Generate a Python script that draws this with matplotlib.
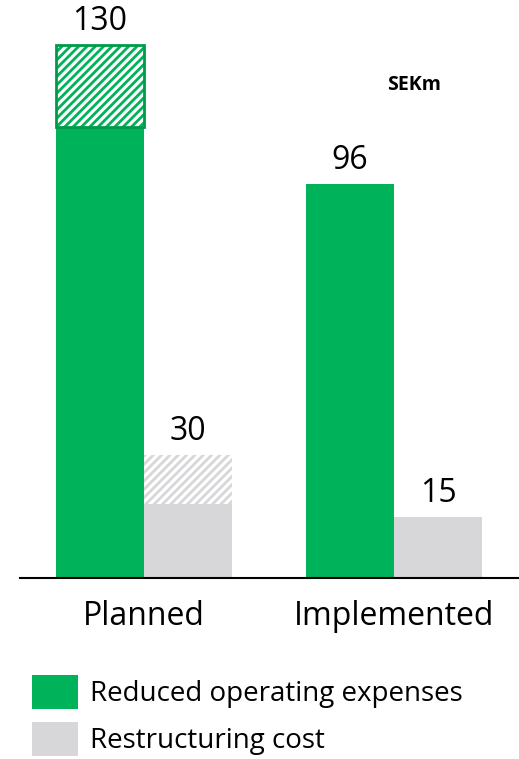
import matplotlib.pyplot as plt
from matplotlib.patches import Patch

plt.rcParams['font.family'] = ['Open Sans', 'DejaVu Sans']
plt.rcParams['hatch.linewidth'] = 2.0

groups = ["Planned", "Implemented"]
opex_total = [130, 96]       # reduced operating expenses
opex_solid = [110, 96]       # part already achieved (solid fill)
restr_total = [30, 15]       # restructuring cost
restr_solid = [18, 15]

green = "#00b259"
dark_green = "#009a4a"
grey = "#d7d7d9"

px = 4.1  # pixels per unit on the value axis

fig = plt.figure(figsize=(5.19, 7.59), dpi=100)
ax = fig.add_axes([20 / 519, 181 / 759, 499 / 519, 578 / 759])

w = 0.352
x = [0, 1]
for i in x:
    xg = i - w / 2
    xr = i + w / 2
    # green bar, solid part + hatched remainder
    ax.bar(xg, opex_solid[i], width=w, color=green, linewidth=0)
    if opex_total[i] > opex_solid[i]:
        ax.bar(xg, opex_total[i] - opex_solid[i], bottom=opex_solid[i], width=w,
               facecolor="white", edgecolor=green, hatch="////", linewidth=0)
        ax.bar(xg, opex_total[i] - opex_solid[i], bottom=opex_solid[i], width=w,
               facecolor="none", edgecolor=dark_green, linewidth=2)
    ax.text(xg, opex_total[i] + 15 / px, str(opex_total[i]), ha="center",
            va="baseline", fontsize=23, clip_on=False)

    # grey bar, solid part + hatched remainder
    ax.bar(xr, restr_solid[i], width=w, color=grey, linewidth=0)
    if restr_total[i] > restr_solid[i]:
        ax.bar(xr, restr_total[i] - restr_solid[i], bottom=restr_solid[i], width=w,
               facecolor="white", edgecolor=grey, hatch="////", linewidth=0)
    ax.text(xr, restr_total[i] + 15 / px, str(restr_total[i]), ha="center",
            va="baseline", fontsize=23, clip_on=False)

    ax.text(i, -47 / px, groups[i], ha="center", va="baseline", fontsize=23,
            clip_on=False)

ax.set_xlim(-0.496, 1.5)
ax.set_ylim(0, 578 / px)
ax.set_xticks([])
ax.set_yticks([])
for s in ["top", "right", "left"]:
    ax.spines[s].set_visible(False)
ax.spines["bottom"].set_linewidth(1.5)

fig.text(414 / 519, 1 - 85 / 759, "SEKm", ha="center", va="center",
         fontsize=14, fontweight="bold")

handles = [Patch(facecolor=green, label="Reduced operating expenses"),
           Patch(facecolor=grey, label="Restructuring cost")]
fig.legend(handles=handles, loc="upper left", bbox_to_anchor=(21 / 519, 1 - 664 / 759),
           frameon=False, fontsize=20, handlelength=1.65, handleheight=1.5,
           handletextpad=0.45, labelspacing=0.46, borderaxespad=0)

fig.savefig("out.png", dpi=100)
